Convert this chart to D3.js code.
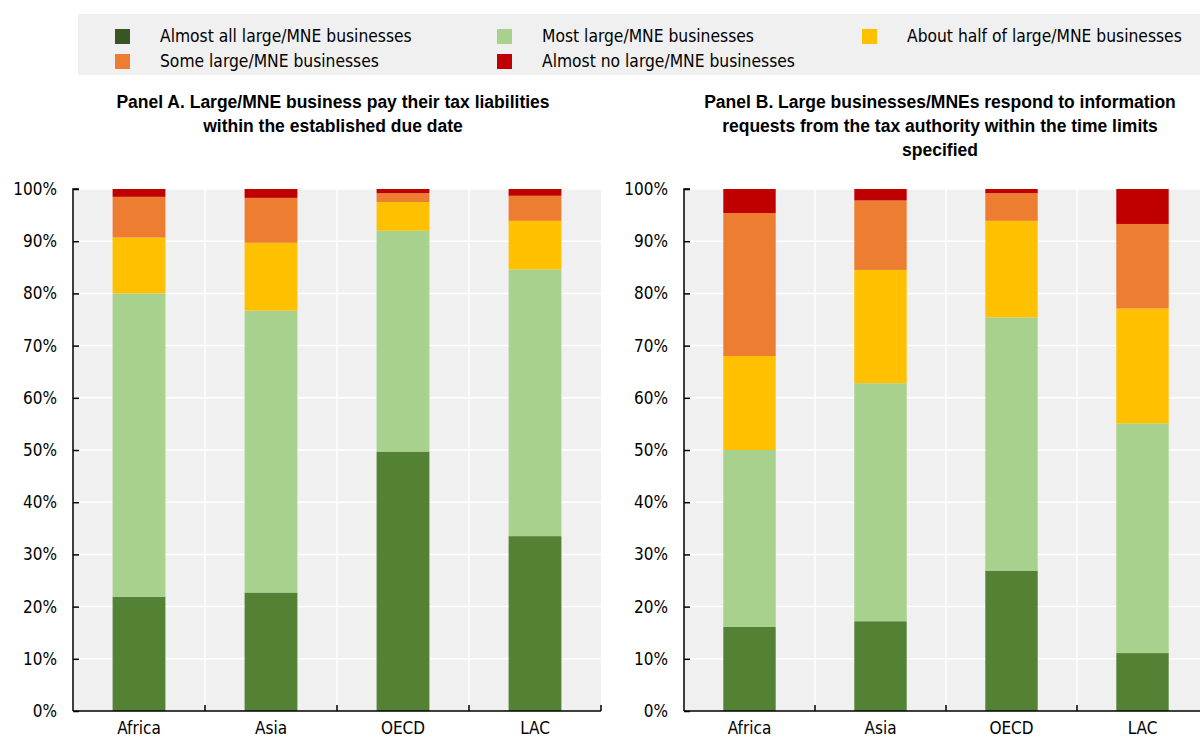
<!DOCTYPE html>
<html lang="en">
<head>
<meta charset="UTF-8">
<title>Large/MNE business compliance</title>
<script src="https://d3js.org/d3.v7.min.js"></script>
<style>
  body { margin: 0; background: #fff; }
  .narrow { font-family: "Liberation Sans Narrow", "Arial Narrow", "DejaVu Sans Condensed", sans-serif; }
  .title { font-family: "Liberation Sans", Arial, sans-serif; font-weight: bold; font-size: 17.5px; }
</style>
</head>
<body>
<div id="chart"></div>
<script>
  const regions = ["Africa", "Asia", "OECD", "LAC"];
  const seriesNames = [
    "Almost all large/MNE businesses",
    "Most large/MNE businesses",
    "About half of large/MNE businesses",
    "Some large/MNE businesses",
    "Almost no large/MNE businesses"
  ];
  const yTicks = [0, 10, 20, 30, 40, 50, 60, 70, 80, 90, 100];

  // Panel A values (share of tax administrations, %), one array per series, region order
  const panelA_almostAll = [21.9, 22.7, 49.7, 33.5];
  const panelA_most      = [58.1, 54.0, 42.3, 51.1];
  const panelA_half      = [10.7, 13.0, 5.5, 9.3];
  const panelA_some      = [7.8, 8.6, 1.7, 4.8];
  const panelA_almostNo  = [1.5, 1.7, 0.8, 1.3];

  // Panel B values
  const panelB_almostAll = [16.1, 17.2, 26.9, 11.1];
  const panelB_most      = [33.9, 45.6, 48.5, 44.0];
  const panelB_half      = [18.0, 21.7, 18.5, 22.0];
  const panelB_some      = [27.4, 13.3, 5.3, 16.2];
  const panelB_almostNo  = [4.6, 2.2, 0.8, 6.7];

  const titleA = ["Panel A. Large/MNE business pay their tax liabilities", "within the established due date"];
  const titleB = ["Panel B. Large businesses/MNEs respond to information", "requests from the tax authority within the time limits", "specified"];

  const colors = ["#548235", "#a9d18e", "#ffc000", "#ed7d31", "#c00000"];
  const legendColors = ["#375623", "#a9d18e", "#ffc000", "#ed7d31", "#c00000"];

  const W = 1200, H = 738;
  const svg = d3.select("#chart").append("svg")
    .attr("width", W).attr("height", H);

  // legend
  const lg = svg.append("g");
  lg.append("rect").attr("x", 78).attr("y", 14).attr("width", 1122).attr("height", 61).attr("fill", "#f0f0f0");
  const legendPos = [[115, 36], [497, 36], [862, 36], [115, 61], [497, 61]];
  seriesNames.forEach((name, i) => {
    const [lx, ly] = legendPos[i];
    lg.append("rect").attr("x", lx).attr("y", ly - 7).attr("width", 15).attr("height", 15).attr("fill", legendColors[i]);
    lg.append("text").attr("class", "narrow").attr("x", lx + 45).attr("y", ly + 1)
      .attr("dominant-baseline", "middle").style("font-size", "17.3px").attr("fill", "#000").text(name);
  });

  function drawPanel(x0, x1, seriesVals, titleLines, titleX) {
    const top = 189, bottom = 711;
    const rows = regions.map((r, i) => {
      const o = { region: r };
      seriesNames.forEach((s, k) => o[s] = seriesVals[k][i]);
      return o;
    });
    const stack = d3.stack().keys(seriesNames)(rows);

    const x = d3.scaleBand().domain(regions).range([x0, x1]).padding(0);
    const y = d3.scaleLinear().domain([0, 100]).range([bottom, top]);
    const g = svg.append("g");

    g.append("rect").attr("x", x0).attr("y", top).attr("width", x1 - x0).attr("height", bottom - top).attr("fill", "#f0f0f0");

    // white grid
    g.selectAll(".hg").data(yTicks.slice(1)).join("line")
      .attr("x1", x0).attr("x2", x1).attr("y1", d => y(d)).attr("y2", d => y(d))
      .attr("stroke", "#fff").attr("stroke-width", 1.5);
    g.selectAll(".vg").data(regions.slice(1)).join("line")
      .attr("x1", d => x(d)).attr("x2", d => x(d)).attr("y1", top).attr("y2", bottom)
      .attr("stroke", "#fff").attr("stroke-width", 1.5);

    const bw = x.bandwidth() * 0.4;
    g.selectAll(".layer").data(stack).join("g")
      .attr("fill", (d, i) => colors[i])
      .selectAll("rect").data(d => d).join("rect")
      .attr("x", d => x(d.data.region) + (x.bandwidth() - bw) / 2)
      .attr("width", bw)
      .attr("y", d => y(d[1]))
      .attr("height", d => y(d[0]) - y(d[1]));

    // y axis
    const ya = g.append("g").attr("transform", `translate(${x0},0)`)
      .call(d3.axisRight(y).tickValues(yTicks).tickSize(6).tickFormat(""));
    ya.select(".domain").attr("stroke", "#000").attr("stroke-width", 1.5).attr("d", `M6,${top}H0V${bottom}`);
    ya.selectAll(".tick line").attr("stroke", "#000").attr("stroke-width", 1.5);
    g.selectAll(".ylab").data(yTicks).join("text").attr("class", "narrow")
      .attr("x", x0 - 16).attr("y", d => y(d)).attr("dy", "0.35em")
      .attr("text-anchor", "end").style("font-size", "17px").text(d => d + "%");

    // x axis
    const xa = g.append("g").attr("transform", `translate(0,${bottom})`)
      .call(d3.axisTop(x).tickSize(0).tickFormat(""));
    xa.select(".domain").attr("stroke", "#000").attr("stroke-width", 1.5).attr("d", `M${x0},0H${x1}`);
    g.selectAll(".xt").data(regions.slice(1).concat(["end"])).join("line")
      .attr("x1", d => d === "end" ? x1 : x(d)).attr("x2", d => d === "end" ? x1 : x(d))
      .attr("y1", bottom).attr("y2", bottom - 6).attr("stroke", "#000").attr("stroke-width", 1.5);
    g.selectAll(".xlab").data(regions).join("text").attr("class", "narrow")
      .attr("x", d => x(d) + x.bandwidth() / 2).attr("y", bottom + 23)
      .attr("text-anchor", "middle").style("font-size", "17px").text(d => d);

    // title
    g.selectAll(".tl").data(titleLines).join("text").attr("class", "title")
      .attr("x", titleX).attr("y", (d, i) => 108 + i * 24)
      .attr("text-anchor", "middle").text(d => d);
  }

  drawPanel(73, 601, [panelA_almostAll, panelA_most, panelA_half, panelA_some, panelA_almostNo], titleA, 333);
  drawPanel(684, 1208, [panelB_almostAll, panelB_most, panelB_half, panelB_some, panelB_almostNo], titleB, 940);
</script>
</body>
</html>
